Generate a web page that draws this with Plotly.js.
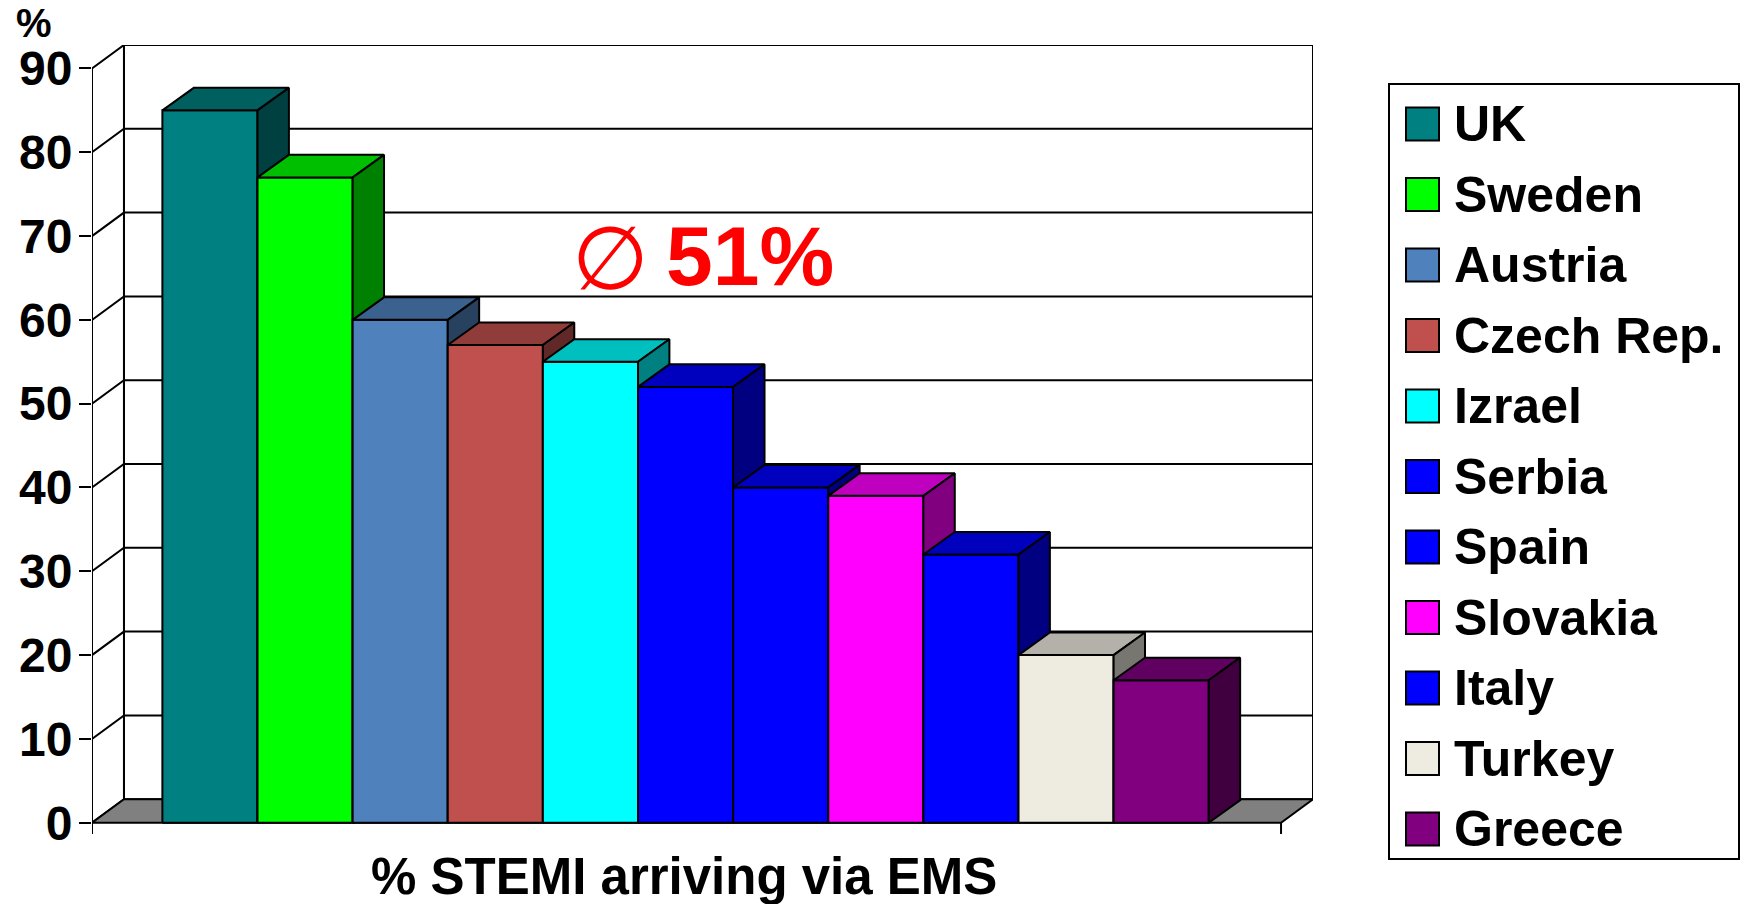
<!DOCTYPE html>
<html>
<head>
<meta charset="utf-8">
<script src="https://cdn.plot.ly/plotly-3.0.1.min.js"></script>
<style>
  html, body { margin: 0; padding: 0; background: #ffffff; }
  #chart { width: 1744px; height: 904px; }
</style>
</head>
<body>
<div id="chart"></div>
<script>
// ---------------- DATA ----------------
const countries = ['UK', 'Sweden', 'Austria', 'Czech Rep.', 'Izrael', 'Serbia', 'Spain', 'Slovakia', 'Italy', 'Turkey', 'Greece'];
const values = [85, 77, 60, 57, 55, 52, 40, 39, 32, 20, 17];
const barColors = ['#008080', '#00FF00', '#4F81BD', '#C0504D', '#00FFFF', '#0000FF', '#0000FF', '#FF00FF', '#0000FF', '#EEECE1', '#800080'];
const yTickVals = [0, 10, 20, 30, 40, 50, 60, 70, 80, 90];
const xTitleText = '% STEMI arriving via EMS';
const yUnitText = '%';
const avgSymbol = '\u2205';
const avgText = '51%';

// ---------------- GEOMETRY / STYLE ----------------
const FONT = 'Liberation Sans, Arial, Helvetica, sans-serif';
const W = 1744, H = 904;
const L = 92, R = 1313, T = 45, B = 834;          // plot area in pixels
const xMin = -1.24, xFront = 11.26;
const wallDx = 0.336, wallDy = 2.8;               // depth of the chart box
const barDx = 0.33, barDy = 2.69;                 // depth of each column
const yMax = 90, yLow = -1.35;
const xMax = xFront + wallDx, yTop = yMax + wallDy;

function shade(hex, f) {
  const n = parseInt(hex.slice(1), 16);
  const r = Math.round(((n >> 16) & 255) * f);
  const g = Math.round(((n >> 8) & 255) * f);
  const b = Math.round((n & 255) * f);
  return 'rgb(' + r + ',' + g + ',' + b + ')';
}
const xp = px => (px - L) / (R - L);
const yp = py => (B - py) / (B - T);

const traces = [];
function poly(xs, ys, fill, lw) {
  traces.push({
    type: 'scatter', mode: 'lines', x: xs, y: ys, fill: 'toself',
    fillcolor: fill, line: { color: '#000000', width: lw === undefined ? 2 : lw },
    hoverinfo: 'skip', showlegend: false
  });
}
function lines(xs, ys, lw) {
  traces.push({
    type: 'scatter', mode: 'lines', x: xs, y: ys,
    line: { color: '#000000', width: lw || 2 },
    hoverinfo: 'skip', showlegend: false, connectgaps: false
  });
}

// back wall, left wall, floor
poly([xMin + wallDx, xMax, xMax, xMin + wallDx, xMin + wallDx], [wallDy, wallDy, yTop, yTop, wallDy], '#ffffff');
poly([xMin, xMin + wallDx, xMin + wallDx, xMin, xMin], [0, wallDy, yTop, yMax, 0], '#ffffff');
poly([xMin, xMin + wallDx, xMax, xFront, xMin], [0, wallDy, wallDy, 0, 0], '#808080');

// gridlines on the walls
const gx = [], gy = [];
yTickVals.forEach(v => {
  if (v === 0 || v === yMax) return;
  gx.push(xMin, xMin + wallDx, xMax, null);
  gy.push(v, v + wallDy, v + wallDy, null);
});
lines(gx, gy, 2);

// front vertical axis and end ticks of category axis
lines([xMin, xMin, null, xFront, xFront], [yMax, yLow, null, 0, yLow], 2);

// 3D columns
values.forEach((v, i) => {
  const x0 = i - 0.5, x1 = i + 0.5;
  const c = barColors[i];
  poly([x0, x1, x1, x0, x0], [0, 0, v, v, 0], c);
  poly([x0, x0 + barDx, x1 + barDx, x1, x0], [v, v + barDy, v + barDy, v, v], shade(c, 0.75));
  poly([x1, x1 + barDx, x1 + barDx, x1, x1], [0, barDy, v + barDy, v, 0], shade(c, 0.5));
});

// ---------------- ANNOTATIONS / LEGEND ----------------
const annotations = [];
const shapes = [];
annotations.push({
  xref: 'paper', yref: 'paper', x: xp(15), y: yp(22.5), xanchor: 'left', yanchor: 'middle',
  text: yUnitText, showarrow: false, borderpad: 0,
  font: { family: FONT, size: 40, color: '#000', weight: 'bold' }
});
annotations.push({
  xref: 'paper', yref: 'paper', x: xp(683.5), y: yp(876), xanchor: 'center', yanchor: 'middle',
  text: xTitleText, showarrow: false, font: { family: FONT, size: 51, color: '#000', weight: 'bold' }
});
annotations.push({
  xref: 'paper', yref: 'paper', x: xp(610), y: yp(258), xanchor: 'center', yanchor: 'middle',
  text: avgSymbol, showarrow: false, font: { family: 'DejaVu Sans, sans-serif', size: 88, color: '#FF0000' }
});
annotations.push({
  xref: 'paper', yref: 'paper', x: xp(664), y: yp(256), xanchor: 'left', yanchor: 'middle',
  text: avgText, showarrow: false, font: { family: FONT, size: 84, color: '#FF0000', weight: 'bold' }
});

// legend frame
shapes.push({
  type: 'rect', xref: 'paper', yref: 'paper', x0: xp(1389), x1: xp(1739), y0: yp(859), y1: yp(84),
  line: { color: '#000000', width: 2 }, fillcolor: 'rgba(0,0,0,0)'
});
countries.forEach((name, i) => {
  const cy = 124 + 70.5 * i;
  shapes.push({
    type: 'rect', xref: 'paper', yref: 'paper', x0: xp(1406), x1: xp(1439), y0: yp(cy + 16.5), y1: yp(cy - 16.5),
    line: { color: '#000000', width: 2 }, fillcolor: barColors[i]
  });
  annotations.push({
    xref: 'paper', yref: 'paper', x: xp(1452), y: yp(cy), xanchor: 'left', yanchor: 'middle',
    text: name, showarrow: false, font: { family: FONT, size: 50, color: '#000', weight: 'bold' }
  });
});

const layout = {
  width: W, height: H,
  margin: { l: L, r: W - R, t: T, b: H - B, pad: 0 },
  paper_bgcolor: '#ffffff', plot_bgcolor: 'rgba(0,0,0,0)',
  showlegend: false,
  xaxis: {
    range: [xMin, xMax], showgrid: false, zeroline: false, showline: false,
    showticklabels: false, ticks: '', fixedrange: true
  },
  yaxis: {
    range: [yLow, yTop], showgrid: false, zeroline: false, showline: false,
    tickmode: 'array', tickvals: yTickVals, ticktext: yTickVals.map(String),
    ticks: 'outside', ticklen: 12, tickwidth: 2, tickcolor: '#000000',
    ticklabelstandoff: -3,
    tickfont: { family: FONT, size: 48, color: '#000000', weight: 'bold' },
    fixedrange: true
  },
  annotations: annotations,
  shapes: shapes
};

Plotly.newPlot('chart', traces, layout, { displayModeBar: false, staticPlot: true });
</script>
</body>
</html>
